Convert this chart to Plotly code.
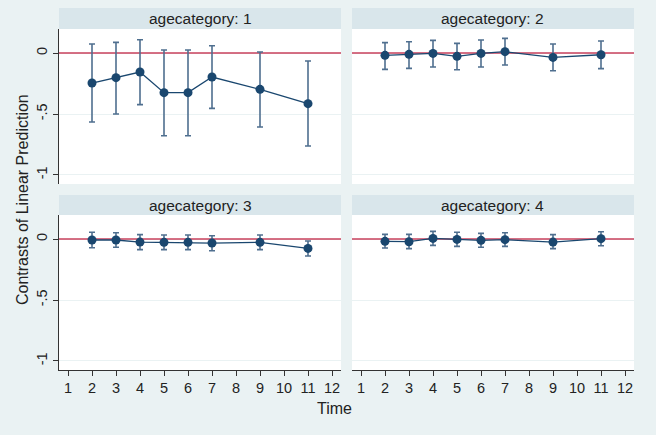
import plotly.graph_objects as go

times = [2, 3, 4, 5, 6, 7, 9, 11]
panel_titles = ["agecategory: 1", "agecategory: 2", "agecategory: 3", "agecategory: 4"]

est1 = [-0.246, -0.202, -0.156, -0.325, -0.325, -0.197, -0.298, -0.415]
hi1 = [0.074, 0.087, 0.109, 0.025, 0.025, 0.060, 0.008, -0.066]
lo1 = [-0.566, -0.500, -0.423, -0.678, -0.678, -0.454, -0.607, -0.762]

est2 = [-0.019, -0.011, -0.003, -0.027, -0.003, 0.011, -0.036, -0.014]
hi2 = [0.085, 0.093, 0.104, 0.079, 0.107, 0.120, 0.074, 0.098]
lo2 = [-0.134, -0.126, -0.115, -0.137, -0.115, -0.098, -0.145, -0.128]

est3 = [-0.008, -0.008, -0.025, -0.027, -0.027, -0.033, -0.027, -0.077]
hi3 = [0.055, 0.052, 0.036, 0.033, 0.033, 0.027, 0.033, -0.016]
lo3 = [-0.071, -0.068, -0.087, -0.087, -0.087, -0.096, -0.087, -0.139]

est4 = [-0.019, -0.022, 0.005, -0.003, -0.011, -0.005, -0.025, 0.003]
hi4 = [0.038, 0.038, 0.063, 0.055, 0.046, 0.052, 0.036, 0.060]
lo4 = [-0.074, -0.079, -0.052, -0.060, -0.068, -0.060, -0.079, -0.055]

x_ticks = list(range(1, 13))
y_ticks = [0, -0.5, -1]
y_ticklabels = ["0", "-.5", "-1"]

W, H = 656, 435
NAVY = "#1a476f"
BAR = "#4f6f8f"
RED = "#c8405c"
BG = "#eaf2f3"
STRIP = "#d9e6eb"
GRID = "#eaf2f3"

def px_x(p):
    return p / W

def px_y(p):
    return 1 - p / H

panels = [
    (est1, hi1, lo1, (59, 341), (29, 184), (8, 29)),
    (est2, hi2, lo2, (352, 634), (29, 184), (8, 29)),
    (est3, hi3, lo3, (59, 341), (215, 370), (195, 215)),
    (est4, hi4, lo4, (352, 634), (215, 370), (195, 215)),
]

fig = go.Figure()
layout = dict(
    width=W, height=H,
    margin=dict(l=0, r=0, t=0, b=0, autoexpand=False),
    paper_bgcolor=BG, plot_bgcolor="white",
    showlegend=False,
    font=dict(family="Liberation Sans, Arial, sans-serif", size=14, color="#222"),
)
shapes = []
annotations = []

for i, (est, hi, lo, xr, yr, sr) in enumerate(panels):
    n = i + 1
    xa = "x" if n == 1 else f"x{n}"
    ya = "y" if n == 1 else f"y{n}"
    plus = [h - e for h, e in zip(hi, est)]
    minus = [e - l for e, l in zip(est, lo)]
    # reference line at 0 (drawn first, under the data)
    fig.add_trace(go.Scatter(
        x=[0.625, 12.375], y=[0, 0], xaxis=xa, yaxis=ya,
        mode="lines", line=dict(color=RED, width=1.5), hoverinfo="skip",
    ))
    fig.add_trace(go.Scatter(
        x=times, y=est, xaxis=xa, yaxis=ya,
        mode="lines+markers",
        line=dict(color=NAVY, width=1.3),
        marker=dict(color=NAVY, size=9),
        error_y=dict(type="data", symmetric=False, array=plus, arrayminus=minus,
                     color=BAR, thickness=1.6, width=3),
    ))
    bottom_row = n >= 3
    left_col = n in (1, 3)
    layout["xaxis" if n == 1 else f"xaxis{n}"] = dict(
        domain=[px_x(xr[0]), px_x(xr[1])],
        anchor=ya, range=[0.625, 12.375],
        tickvals=x_ticks, ticktext=[str(t) for t in x_ticks],
        showticklabels=bottom_row,
        ticks="outside" if bottom_row else "",
        ticklen=5, tickcolor="#333", tickwidth=1,
        showline=bottom_row, linecolor="#333", linewidth=1,
        showgrid=False, zeroline=False,
        tickfont=dict(size=14.5, color="#222"),
    )
    layout["yaxis" if n == 1 else f"yaxis{n}"] = dict(
        domain=[px_y(yr[1]), px_y(yr[0])],
        anchor=xa, range=[-1.074, 0.197],
        tickvals=y_ticks, ticktext=y_ticklabels,
        showticklabels=left_col, tickangle=-90,
        ticks="outside" if left_col else "",
        ticklen=5, tickcolor="#333", tickwidth=1,
        showline=left_col, linecolor="#333", linewidth=1,
        showgrid=True, gridcolor=GRID, gridwidth=1,
        zeroline=False,
        tickfont=dict(size=14.5, color="#222"),
    )
    # strip header
    shapes.append(dict(type="rect", xref="paper", yref="paper",
                       x0=px_x(xr[0]), x1=px_x(xr[1]),
                       y0=px_y(sr[1]), y1=px_y(sr[0]),
                       fillcolor=STRIP, line=dict(width=0), layer="below"))
    annotations.append(dict(text=panel_titles[i], xref="paper", yref="paper",
                            x=(px_x(xr[0]) + px_x(xr[1])) / 2,
                            y=(px_y(sr[1]) + px_y(sr[0])) / 2,
                            xanchor="center", yanchor="middle", showarrow=False,
                            font=dict(size=15.5, color="#222")))

annotations.append(dict(text="Contrasts of Linear Prediction", xref="paper", yref="paper",
                        x=px_x(22), y=px_y(200), textangle=-90,
                        xanchor="center", yanchor="middle", showarrow=False,
                        font=dict(size=16, color="#222")))
annotations.append(dict(text="Time", xref="paper", yref="paper",
                        x=px_x(334), y=px_y(408),
                        xanchor="center", yanchor="middle", showarrow=False,
                        font=dict(size=16, color="#222")))

layout["shapes"] = shapes
layout["annotations"] = annotations
fig.update_layout(**layout)
fig.write_html("out.html",
               config={"displayModeBar": False},
               post_script="document.body.style.margin='0';document.body.style.background='%s';" % BG)
